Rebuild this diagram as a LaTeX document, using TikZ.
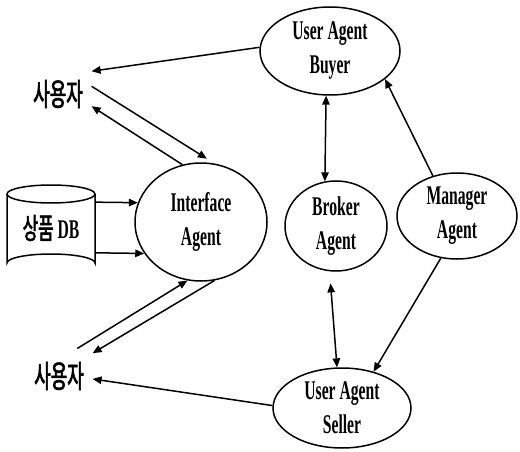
\documentclass[tikz,border=0pt]{standalone}
\usepackage{fontspec}
\setmainfont{Liberation Serif}[FakeStretch=0.58]
\newfontfamily\hangul{Noto Sans CJK KR}[FakeStretch=0.58,FakeBold=2]
\usetikzlibrary{shapes.geometric,arrows.meta}

\begin{document}
\begin{tikzpicture}[x=1pt,y=-1pt,
  line width=1.5pt,
  >={Triangle[length=9pt,width=7.5pt]},
  agent/.style={ellipse,draw,inner sep=0pt,align=center,
    font=\bfseries\fontsize{27}{34}\selectfont},
  who/.style={inner sep=8pt,font=\hangul\fontsize{31}{34}\selectfont},
]
\useasboundingbox (0,0) rectangle (520,452);

% agents
\node[agent,minimum width=140,minimum height=88] (buyer) at (330,51) {User Agent\\Buyer};
\node[agent,minimum width=132,minimum height=118] (iface) at (201,222) {Interface\\Agent};
\node[agent,minimum width=102,minimum height=90] (broker) at (336,226) {Broker\\Agent};
\node[agent,minimum width=120,minimum height=86] (manager) at (457,216) {Manager\\Agent};
\node[agent,minimum width=138,minimum height=80] (seller) at (342,408) {User Agent\\Seller};

% users
\node[who] (user1) at (58,94) {사용자};
\node[who] (user2) at (59,376) {사용자};

% product database drawn as a cylinder
\draw (7,194) -- (7,263) arc[start angle=180,end angle=360,x radius=44,y radius=9]
      -- (95,194);
\draw (51,194) ellipse[x radius=44,y radius=9];
\node[minimum width=88,minimum height=87,inner sep=0pt,
  font=\bfseries\fontsize{27}{28}\selectfont] (db) at (51,228)
  {{\hangul\mdseries\fontsize{29}{30}\selectfont 상품} DB};

% connectors
\draw[->] (buyer.177) -- (user1.north east);
\draw[->,shorten >=9pt] (user1.13) -- (iface.77);
\draw[->] (iface.108) -- (user1.-20);
\draw[->] (db.30) -- (iface.163);
\draw[->] (db.-29) -- (iface.209);
\draw[->,shorten <=9pt] (user2.65) -- (iface.-103);
\draw[->] (iface.-77) -- (user2.north east);
\draw[->] (seller.178) -- (user2.-5);
\draw[<->] (buyer.-95) -- (broker.104);
\draw[<->,shorten <=12pt] (broker.-98) -- (seller.97);
\draw[->] (manager.121) -- (buyer.-27);
\draw[->] (manager.-111) -- (seller.49);
\end{tikzpicture}
\end{document}
